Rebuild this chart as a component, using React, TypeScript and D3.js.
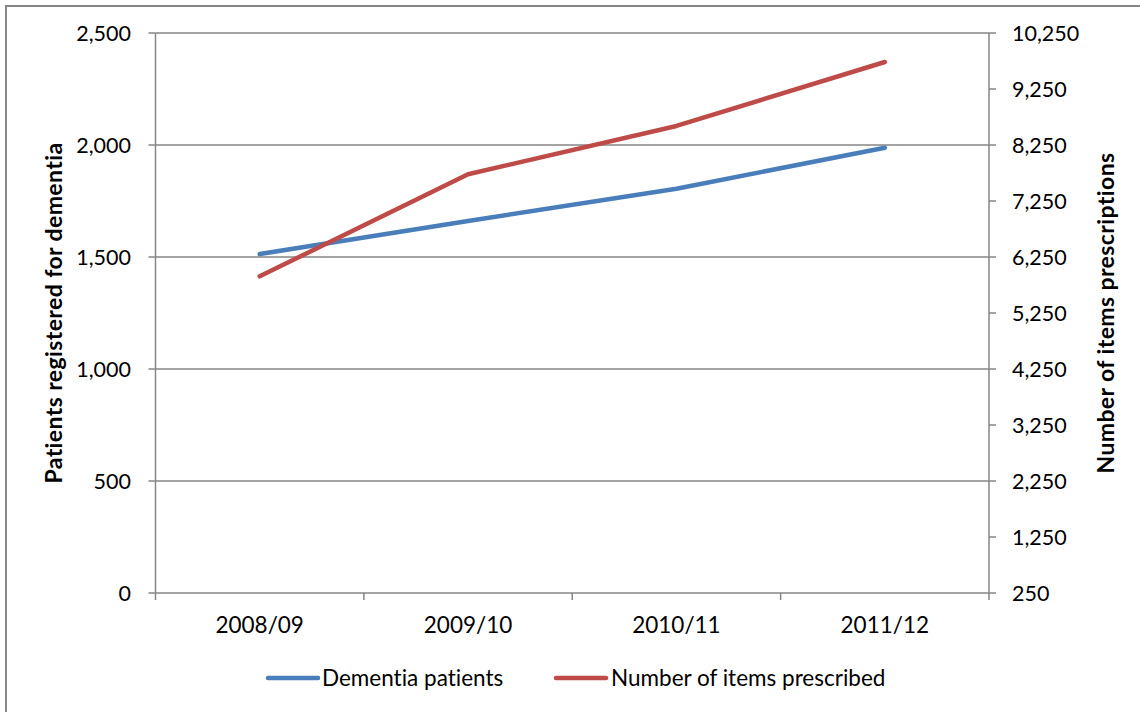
import React from "react";
import * as d3 from "d3";

const categories = ["2008/09", "2009/10", "2010/11", "2011/12"];
const dementiaPatients = [1513, 1661, 1805, 1988];
const itemsPrescribed = [5905, 7727, 8590, 9732];
const leftTicks = [0, 500, 1000, 1500, 2000, 2500];
const rightTicks = [250, 1250, 2250, 3250, 4250, 5250, 6250, 7250, 8250, 9250, 10250];
const seriesNames = ["Dementia patients", "Number of items prescribed"];
const leftTitle = "Patients registered for dementia";
const rightTitle = "Number of items prescriptions";

const W = 1140;
const H = 712;
const plot = { left: 155.5, right: 989, top: 33, bottom: 593 };
const FONT = "Lato, 'Open Sans', sans-serif";
const GRID = "#868686";
const BLUE = "#4a7ebb";
const RED = "#be4b48";
const TICK_FS = 21.5;
const LABEL_FS = 22.5;
const TITLE_FS = 23;

export default function App() {
  const x = d3
    .scaleBand<string>()
    .domain(categories)
    .range([plot.left, plot.right]);
  const yL = d3.scaleLinear().domain([0, 2500]).range([plot.bottom, plot.top]);
  const yR = d3.scaleLinear().domain([250, 10250]).range([plot.bottom, plot.top]);
  const cx = (c: string) => (x(c) as number) + x.bandwidth() / 2;

  const lineL = d3
    .line<number>()
    .x((_, i) => cx(categories[i]))
    .y((d) => yL(d));
  const lineR = d3
    .line<number>()
    .x((_, i) => cx(categories[i]))
    .y((d) => yR(d));

  const fmt = d3.format(",");
  const catEdges = categories.map((c) => x(c) as number).concat([plot.right]);

  return (
    <svg
      width={W}
      height={H}
      style={{ position: "absolute", left: 0, top: 0, background: "#fff", fontVariantLigatures: "none" }}
      fontFamily={FONT}
    >
      <rect x={6} y={6} width={W + 10} height={H + 10} fill="#fff" stroke={GRID} strokeWidth={2} />

      {/* horizontal gridlines */}
      {leftTicks.map((t) => (
        <line key={"g" + t} x1={plot.left} x2={plot.right} y1={yL(t)} y2={yL(t)} stroke={GRID} strokeWidth={1.5} />
      ))}

      {/* left axis */}
      <line x1={plot.left} x2={plot.left} y1={plot.top} y2={plot.bottom} stroke={GRID} strokeWidth={1.5} />
      {leftTicks.map((t) => (
        <g key={"l" + t}>
          <line x1={plot.left - 7} x2={plot.left} y1={yL(t)} y2={yL(t)} stroke={GRID} strokeWidth={1.5} />
          <text x={131} y={yL(t)} dy="0.35em" textAnchor="end" fontSize={TICK_FS} fill="#000">
            {fmt(t)}
          </text>
        </g>
      ))}

      {/* right axis */}
      <line x1={plot.right} x2={plot.right} y1={plot.top} y2={plot.bottom} stroke={GRID} strokeWidth={1.5} />
      {rightTicks.map((t) => (
        <g key={"r" + t}>
          <line x1={plot.right} x2={plot.right + 7} y1={yR(t)} y2={yR(t)} stroke={GRID} strokeWidth={1.5} />
          <text x={1012} y={yR(t)} dy="0.35em" textAnchor="start" fontSize={TICK_FS} fill="#000">
            {fmt(t)}
          </text>
        </g>
      ))}

      {/* category axis */}
      {catEdges.map((e, i) => (
        <line key={"c" + i} x1={e} x2={e} y1={plot.bottom} y2={plot.bottom + 7} stroke={GRID} strokeWidth={1.5} />
      ))}
      {categories.map((c) => (
        <text key={c} x={cx(c)} y={625} dy="0.35em" textAnchor="middle" fontSize={LABEL_FS} fill="#000">
          {c}
        </text>
      ))}

      {/* axis titles */}
      <text
        transform={`translate(54,${(plot.top + plot.bottom) / 2}) rotate(-90)`}
        textAnchor="middle"
        dy="0.35em"
        fontSize={TITLE_FS}
        fontWeight="bold"
        letterSpacing={0.4}
        fill="#000"
      >
        {leftTitle}
      </text>
      <text
        transform={`translate(1106,${(plot.top + plot.bottom) / 2}) rotate(-90)`}
        textAnchor="middle"
        dy="0.35em"
        fontSize={TITLE_FS}
        fontWeight="bold"
        letterSpacing={0.4}
        fill="#000"
      >
        {rightTitle}
      </text>

      {/* series */}
      <path d={lineL(dementiaPatients) as string} fill="none" stroke={BLUE} strokeWidth={4.5} strokeLinecap="round" strokeLinejoin="round" />
      <path d={lineR(itemsPrescribed) as string} fill="none" stroke={RED} strokeWidth={4.5} strokeLinecap="round" strokeLinejoin="round" />

      {/* legend */}
      <line x1={268} x2={318} y1={678} y2={678} stroke={BLUE} strokeWidth={4.5} strokeLinecap="round" />
      <text x={322} y={678} dy="0.35em" fontSize={LABEL_FS} fill="#000">
        {seriesNames[0]}
      </text>
      <line x1={556} x2={606} y1={678} y2={678} stroke={RED} strokeWidth={4.5} strokeLinecap="round" />
      <text x={611} y={678} dy="0.35em" fontSize={LABEL_FS} fill="#000">
        {seriesNames[1]}
      </text>
    </svg>
  );
}
